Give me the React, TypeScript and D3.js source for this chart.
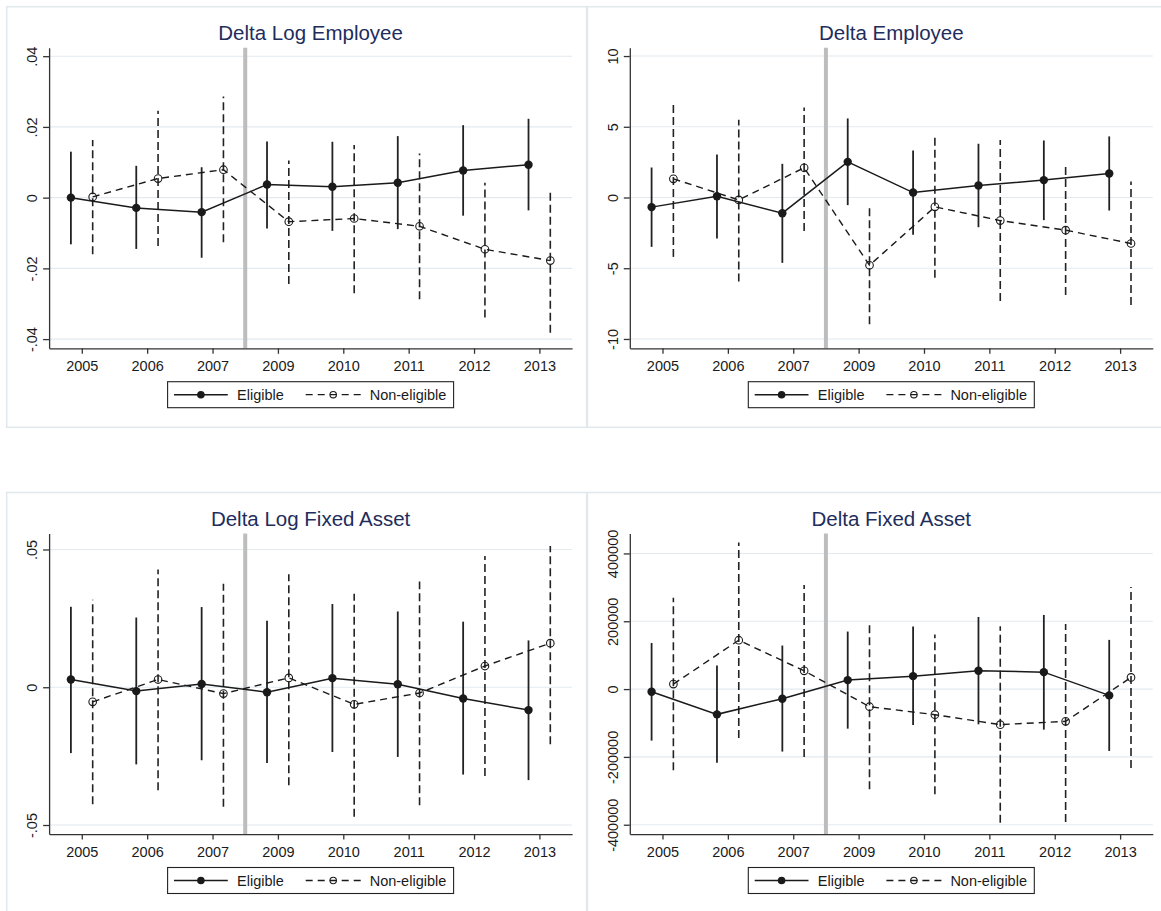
import React, { useEffect, useRef } from 'react';
import * as d3 from 'd3';

// years on the x axis (2008 is left out, the grey bar marks it)
const years = ['2005', '2006', '2007', '2009', '2010', '2011', '2012', '2013'];

// Delta Log Employee
const logEmpElig = [0, -0.0029, -0.0041, 0.0037, 0.0031, 0.0042, 0.0077, 0.0093];
const logEmpEligLo = [-0.0132, -0.0145, -0.017, -0.0087, -0.0094, -0.0089, -0.0051, -0.0036];
const logEmpEligHi = [0.013, 0.009, 0.0086, 0.0159, 0.0158, 0.0174, 0.0205, 0.0223];
const logEmpNon = [0.0002, 0.0054, 0.0079, -0.0068, -0.0059, -0.0081, -0.0146, -0.0178];
const logEmpNonLo = [-0.016, -0.0137, -0.0126, -0.0244, -0.027, -0.0287, -0.0339, -0.0382];
const logEmpNonHi = [0.0163, 0.0246, 0.0286, 0.0105, 0.0149, 0.0125, 0.0042, 0.0025];

// Delta Employee
const empElig = [-0.68, 0.09, -1.11, 2.52, 0.35, 0.85, 1.23, 1.7];
const empEligLo = [-3.49, -2.9, -4.62, -0.54, -2.64, -2.1, -1.6, -0.92];
const empEligHi = [2.12, 3.04, 2.38, 5.59, 3.33, 3.8, 4.03, 4.32];
const empNon = [1.32, -0.17, 2.1, -4.79, -0.66, -1.63, -2.31, -3.25];
const empNonLo = [-4.2, -5.94, -2.36, -8.96, -5.68, -7.31, -6.89, -7.6];
const empNonHi = [6.82, 5.5, 6.37, -0.57, 4.32, 4.06, 2.26, 1.13];

// Delta Log Fixed Asset
const logFaElig = [0.0028, -0.0014, 0.0012, -0.0018, 0.0033, 0.0011, -0.0041, -0.0083];
const logFaEligLo = [-0.0239, -0.028, -0.0265, -0.0275, -0.0235, -0.0253, -0.0317, -0.0337];
const logFaEligHi = [0.0292, 0.0253, 0.0291, 0.0241, 0.0302, 0.0275, 0.0238, 0.017];
const logFaNon = [-0.0053, 0.0028, -0.0023, 0.0034, -0.0062, -0.0021, 0.0077, 0.016];
const logFaNonLo = [-0.0425, -0.0374, -0.0434, -0.0356, -0.047, -0.0428, -0.0322, -0.0207];
const logFaNonHi = [0.0318, 0.0427, 0.0376, 0.041, 0.0339, 0.0384, 0.0476, 0.0513];

// Delta Fixed Asset
const faElig = [-7800, -74500, -28400, 26500, 38200, 53900, 50000, -18600];
const faEligLo = [-152000, -217600, -184300, -116700, -105900, -103900, -119600, -182400];
const faEligHi = [136000, 69600, 128400, 169600, 184300, 212700, 218600, 145100];
const faNon = [14700, 144100, 53900, -52000, -75500, -104900, -95100, 34300];
const faNonLo = [-239200, -144100, -200000, -295100, -309800, -394100, -392200, -232400];
const faNonHi = [269600, 432400, 306900, 194100, 160800, 185300, 192200, 301000];

// y ticks
const logEmpTicks = [-0.04, -0.02, 0, 0.02, 0.04];
const logEmpTickLabels = ['-.04', '-.02', '0', '.02', '.04'];
const empTicks = [-10, -5, 0, 5, 10];
const empTickLabels = ['-10', '-5', '0', '5', '10'];
const logFaTicks = [-0.05, 0, 0.05];
const logFaTickLabels = ['-.05', '0', '.05'];
const faTicks = [-400000, -200000, 0, 200000, 400000];
const faTickLabels = ['-400000', '-200000', '0', '200000', '400000'];

const panels = [
  { title: 'Delta Log Employee', yDomain: [-0.0426, 0.0424], ticks: logEmpTicks, tickLabels: logEmpTickLabels,
    elig: logEmpElig, eligLo: logEmpEligLo, eligHi: logEmpEligHi, non: logEmpNon, nonLo: logEmpNonLo, nonHi: logEmpNonHi },
  { title: 'Delta Employee', yDomain: [-10.66, 10.59], ticks: empTicks, tickLabels: empTickLabels,
    elig: empElig, eligLo: empEligLo, eligHi: empEligHi, non: empNon, nonLo: empNonLo, nonHi: empNonHi },
  { title: 'Delta Log Fixed Asset', yDomain: [-0.0533, 0.0558], ticks: logFaTicks, tickLabels: logFaTickLabels,
    elig: logFaElig, eligLo: logFaEligLo, eligHi: logFaEligHi, non: logFaNon, nonLo: logFaNonLo, nonHi: logFaNonHi },
  { title: 'Delta Fixed Asset', yDomain: [-427650, 458800], ticks: faTicks, tickLabels: faTickLabels,
    elig: faElig, eligLo: faEligLo, eligHi: faEligHi, non: faNon, nonLo: faNonLo, nonHi: faNonHi },
];

const FONT = '"Liberation Sans", Arial, Helvetica, sans-serif';
const INK = '#1a1a1a';
const panelOrigins = [[6.7, 6.7], [587.4, 6.7], [6.7, 492.5], [587.4, 492.5]];

const Panel = ({ spec, x0, y0 }) => {
  const gRef = useRef();

  useEffect(() => {
    const g = d3.select(gRef.current);
    g.selectAll('*').remove();

    const left = 42.4, right = 565.4, top = 41, bottom = 341.6;
    const x = d3.scaleLinear().domain([-0.5, years.length - 0.5]).range([left, right]);
    const y = d3.scaleLinear().domain(spec.yDomain).range([bottom, top]);
    const off = 1 / 6;

    // panel frame
    g.append('rect').attr('x', 0).attr('y', 0).attr('width', 580).attr('height', 420.6)
      .attr('fill', 'white').attr('stroke', '#e1e9ec').attr('stroke-width', 1.6);

    // gridlines
    g.append('g').selectAll('line').data(spec.ticks).join('line')
      .attr('x1', left).attr('x2', right)
      .attr('y1', d => y(d)).attr('y2', d => y(d))
      .attr('stroke', '#e2eaee').attr('stroke-width', 1.1);

    // event line between 2007 and 2009
    g.append('line').attr('x1', x(2.5)).attr('x2', x(2.5)).attr('y1', top).attr('y2', bottom)
      .attr('stroke', '#bdbdbd').attr('stroke-width', 4);

    // y axis
    const yAxis = d3.axisLeft(y).tickValues(spec.ticks)
      .tickFormat((d, i) => spec.tickLabels[i]).tickSize(6).tickSizeOuter(0);
    const yG = g.append('g').attr('transform', `translate(${left},0)`).call(yAxis);
    yG.select('.domain').attr('stroke', '#333').attr('stroke-width', 1.3);
    yG.selectAll('.tick line').attr('stroke', '#333').attr('stroke-width', 1.3);
    yG.selectAll('.tick text')
      .attr('x', null).attr('dy', null)
      .attr('transform', 'translate(-12,0) rotate(-90)')
      .attr('text-anchor', 'middle')
      .attr('fill', INK).attr('font-size', 14.5).attr('font-family', FONT);

    // x axis
    const xAxis = d3.axisBottom(x).tickValues(d3.range(years.length))
      .tickFormat(i => years[i]).tickSize(5.5).tickSizeOuter(0);
    const xG = g.append('g').attr('transform', `translate(0,${bottom})`).call(xAxis);
    xG.select('.domain').attr('stroke', '#333').attr('stroke-width', 1.3);
    xG.selectAll('.tick line').attr('stroke', '#333').attr('stroke-width', 1.3);
    xG.selectAll('.tick text').attr('y', 22.6).attr('dy', null)
      .attr('fill', INK).attr('font-size', 14.5).attr('font-family', FONT);

    const idx = d3.range(years.length);

    // eligible CI bars
    g.append('g').selectAll('line').data(idx).join('line')
      .attr('x1', i => x(i - off)).attr('x2', i => x(i - off))
      .attr('y1', i => y(spec.eligLo[i])).attr('y2', i => y(spec.eligHi[i]))
      .attr('stroke', '#222').attr('stroke-width', 1.8);

    // non-eligible CI bars
    g.append('g').selectAll('line').data(idx).join('line')
      .attr('x1', i => x(i + off)).attr('x2', i => x(i + off))
      .attr('y1', i => y(spec.nonLo[i])).attr('y2', i => y(spec.nonHi[i]))
      .attr('stroke', '#222').attr('stroke-width', 1.6).attr('stroke-dasharray', '8 4');

    const eligLine = d3.line().x(i => x(i - off)).y(i => y(spec.elig[i]));
    const nonLine = d3.line().x(i => x(i + off)).y(i => y(spec.non[i]));

    g.append('path').attr('d', eligLine(idx)).attr('fill', 'none')
      .attr('stroke', INK).attr('stroke-width', 1.5);
    g.append('path').attr('d', nonLine(idx)).attr('fill', 'none')
      .attr('stroke', INK).attr('stroke-width', 1.4).attr('stroke-dasharray', '7 5');

    g.append('g').selectAll('circle').data(idx).join('circle')
      .attr('cx', i => x(i - off)).attr('cy', i => y(spec.elig[i])).attr('r', 4.2)
      .attr('fill', INK);
    g.append('g').selectAll('circle').data(idx).join('circle')
      .attr('cx', i => x(i + off)).attr('cy', i => y(spec.non[i])).attr('r', 3.8)
      .attr('fill', 'none').attr('stroke', INK).attr('stroke-width', 1.1);

    // title
    g.append('text').attr('x', (left + right) / 2).attr('y', 33.3)
      .attr('text-anchor', 'middle').attr('font-family', FONT).attr('font-size', 20.5)
      .attr('fill', '#1e2d5c').text(spec.title);

    // legend
    const lx = (left + right) / 2 - 143;
    const lg = g.append('g').attr('transform', `translate(${lx},375)`);
    lg.append('rect').attr('x', 0).attr('y', 0).attr('width', 286).attr('height', 26)
      .attr('fill', 'white').attr('stroke', '#222').attr('stroke-width', 1.1);
    lg.append('line').attr('x1', 6.4).attr('x2', 60.2).attr('y1', 13).attr('y2', 13)
      .attr('stroke', INK).attr('stroke-width', 1.4);
    lg.append('circle').attr('cx', 33.3).attr('cy', 13).attr('r', 3.8).attr('fill', INK);
    lg.append('text').attr('x', 69.5).attr('y', 18.4).attr('font-family', FONT)
      .attr('font-size', 14.5).attr('fill', INK).text('Eligible');
    lg.append('line').attr('x1', 138.1).attr('x2', 193.1).attr('y1', 13).attr('y2', 13)
      .attr('stroke', INK).attr('stroke-width', 1.3).attr('stroke-dasharray', '7 5');
    lg.append('circle').attr('cx', 165.6).attr('cy', 13).attr('r', 3.2)
      .attr('fill', 'none').attr('stroke', INK).attr('stroke-width', 1.1);
    lg.append('text').attr('x', 202.1).attr('y', 18.4).attr('font-family', FONT)
      .attr('font-size', 14.5).attr('fill', INK).text('Non-eligible');
  }, [spec]);

  return <g ref={gRef} transform={`translate(${x0},${y0})`}></g>;
};

const App = () => {
  return (
    <svg width={1161} height={911}
      style={{ position: 'absolute', left: 0, top: 0, background: 'white' }}>
      {panels.map((p, k) => (
        <Panel key={p.title} spec={p} x0={panelOrigins[k][0]} y0={panelOrigins[k][1]} />
      ))}
    </svg>
  );
};

export default App;
